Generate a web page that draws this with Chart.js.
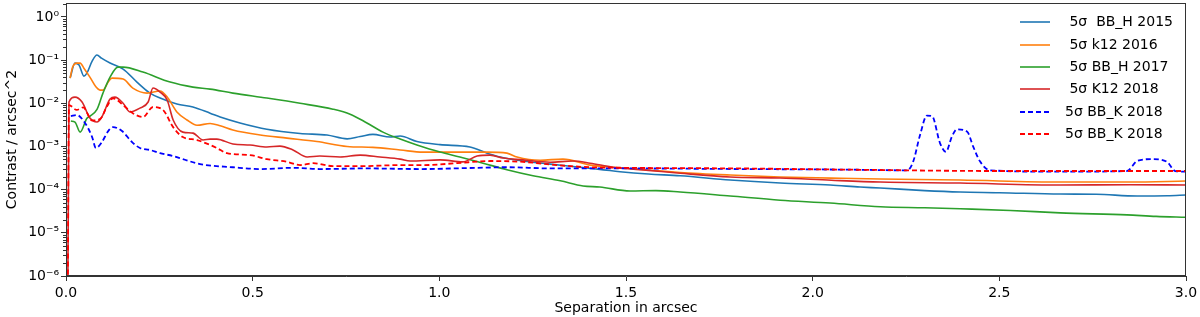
<!DOCTYPE html>
<html><head><meta charset="utf-8">
<script src="https://cdn.jsdelivr.net/npm/chart.js@4.4.1/dist/chart.umd.min.js"></script>
<style>html,body{margin:0;padding:0;background:#fff;}#wrap{width:1200px;height:317px;position:relative;}</style>
</head><body><div id="wrap"><canvas id="c" width="1200" height="317"></canvas></div>
<script>
// ---- data (separation in arcsec, contrast per arcsec^2) ----
const sep2015 = [0.011,0.024,0.035,0.048,0.056,0.070,0.083,0.095,0.118,0.153,0.190,0.225,0.252,0.297,0.340,0.386,0.413,0.466,0.538,0.627,0.699,0.753,0.788,0.822,0.868,0.895,0.940,1.002,1.082,1.128,1.163,1.224,1.297,1.377,1.484,1.560,1.645,1.779,1.913,2.047,2.127,2.181,2.300,2.395,2.500,2.663,2.760,2.869,2.950,3.0];
const c2015 = [0.0383,0.0853,0.0766,0.0426,0.050,0.095,0.131,0.111,0.0853,0.062,0.031,0.0172,0.0132,0.0096,0.0082,0.0059,0.0048,0.0035,0.0025,0.0020,0.00184,0.0015,0.0017,0.0019,0.00165,0.00174,0.0013,0.0011,0.00097,0.00070,0.00057,0.00046,0.00039,0.00033,0.00026,0.00023,0.00021,0.000167,0.000142,0.000128,0.000115,0.000109,0.000095,0.000088,0.000085,0.000079,0.000078,0.000071,0.000072,0.000075];

const sep2016 = [0.011,0.018,0.029,0.038,0.048,0.064,0.080,0.091,0.099,0.113,0.123,0.153,0.179,0.217,0.252,0.271,0.297,0.324,0.351,0.386,0.413,0.447,0.520,0.592,0.672,0.753,0.822,0.895,0.956,1.047,1.128,1.181,1.208,1.270,1.331,1.404,1.484,1.645,1.779,1.913,2.050,2.181,2.395,2.663,2.850,3.0];
const c2016 = [0.0383,0.070,0.0853,0.0853,0.065,0.0404,0.024,0.0202,0.0202,0.031,0.0383,0.0363,0.0225,0.0172,0.0192,0.0139,0.0063,0.0041,0.0031,0.0034,0.0030,0.0024,0.00184,0.00156,0.0013,0.0010,0.00095,0.00083,0.00074,0.00074,0.00074,0.00070,0.00057,0.00048,0.00051,0.00037,0.00032,0.00025,0.000218,0.000196,0.000185,0.000176,0.000167,0.000150,0.000150,0.000158];

const sep2017 = [0.013,0.024,0.038,0.056,0.064,0.083,0.099,0.118,0.139,0.153,0.206,0.279,0.340,0.386,0.447,0.538,0.627,0.715,0.761,0.806,0.849,0.895,0.940,1.002,1.055,1.117,1.181,1.251,1.324,1.385,1.430,1.511,1.580,1.645,1.779,1.913,2.047,2.181,2.300,2.395,2.530,2.663,2.842,2.920,3.0];
const c2017 = [0.00387,0.00367,0.00215,0.0045,0.0050,0.0072,0.0172,0.0404,0.0689,0.0689,0.0527,0.031,0.0237,0.0213,0.0172,0.0132,0.0100,0.0073,0.0056,0.0035,0.00215,0.00148,0.00108,0.00074,0.00057,0.00041,0.00029,0.00021,0.00016,0.000121,0.000115,0.000093,0.000095,0.000088,0.000071,0.000057,0.000049,0.000040,0.000038,0.000036,0.000033,0.000029,0.000026,0.000024,0.000023];

const sepK12 = [0.004,0.008,0.024,0.043,0.064,0.083,0.096,0.118,0.131,0.153,0.171,0.198,0.220,0.233,0.252,0.271,0.287,0.313,0.340,0.367,0.386,0.404,0.447,0.493,0.538,0.573,0.608,0.646,0.680,0.734,0.788,0.841,0.895,0.922,1.002,1.063,1.101,1.136,1.171,1.224,1.297,1.358,1.404,1.465,1.560,1.645,1.779,1.913,2.050,2.181,2.395,2.663,2.850,3.0];
const cK12 = [1e-8,0.0107,0.0139,0.0107,0.00454,0.00367,0.0048,0.0125,0.0139,0.0100,0.0063,0.0077,0.0107,0.0225,0.0182,0.0119,0.0041,0.00215,0.00204,0.00141,0.00148,0.00148,0.00114,0.00108,0.00097,0.00102,0.00083,0.00057,0.00060,0.00057,0.00063,0.00057,0.00051,0.00046,0.00049,0.00044,0.00060,0.00063,0.00054,0.00049,0.00043,0.00046,0.00041,0.00033,0.00028,0.00024,0.000196,0.000186,0.000165,0.000150,0.000142,0.000128,0.000130,0.000128];

const sepBlueK = [0.013,0.029,0.051,0.070,0.080,0.096,0.113,0.126,0.150,0.177,0.198,0.225,0.252,0.287,0.313,0.359,0.447,0.520,0.608,0.680,0.800,0.950,1.100,1.180,1.300,1.500,1.800,2.100,2.253,2.269,2.288,2.306,2.320,2.341,2.357,2.373,2.387,2.414,2.430,2.449,2.475,2.663,2.842,2.869,2.912,2.949,2.971,3.0];
const cBlueK = [0.00505,0.00533,0.0035,0.00165,0.00092,0.00126,0.00227,0.00281,0.00227,0.00126,0.00092,0.00083,0.00070,0.00060,0.00051,0.00039,0.00033,0.00030,0.00032,0.00030,0.00031,0.00030,0.00032,0.00033,0.00031,0.00031,0.00030,0.00029,0.00028,0.00044,0.0019,0.0052,0.0050,0.0012,0.00075,0.0017,0.0025,0.0022,0.00099,0.00044,0.00028,0.00026,0.00027,0.00046,0.00051,0.00044,0.00027,0.00026];

const sepRedK = [0.004,0.008,0.029,0.046,0.070,0.091,0.110,0.126,0.153,0.179,0.206,0.233,0.260,0.287,0.313,0.351,0.386,0.404,0.431,0.493,0.538,0.592,0.627,0.662,0.715,0.788,0.895,0.956,1.047,1.136,1.224,1.315,1.404,1.500,1.800,2.100,2.500,3.0];
const cRedK = [1e-8,0.0091,0.0070,0.0080,0.0040,0.0043,0.0085,0.0130,0.0091,0.0059,0.0048,0.0082,0.0070,0.0028,0.00165,0.00141,0.00108,0.00092,0.00070,0.00063,0.00051,0.00044,0.00037,0.00041,0.00035,0.00035,0.00037,0.00037,0.00041,0.00046,0.00044,0.00037,0.00033,0.00032,0.00031,0.00029,0.00027,0.00027];

const seriesLabels = [' 5σ  BB_H 2015', ' 5σ k12 2016', ' 5σ BB_H 2017', ' 5σ K12 2018', '5σ BB_K 2018', '5σ BB_K 2018'];

const xTickValues = [0, 0.5, 1.0, 1.5, 2.0, 2.5, 3.0];
const xTickLabels = ['0.0', '0.5', '1.0', '1.5', '2.0', '2.5', '3.0'];
const yTickValues = [1e-6, 1e-5, 1e-4, 1e-3, 1e-2, 1e-1, 1];
const yTickLabels = ['10⁻⁶', '10⁻⁵', '10⁻⁴', '10⁻³', '10⁻²', '10⁻¹', '10⁰'];

// ---- styling ----
const FONT = "'DejaVu Sans', sans-serif";
Chart.defaults.font.family = FONT;
Chart.defaults.font.size = 14;
Chart.defaults.color = '#000';
const AXIS = '#333';

function pts(xs, ys) { return xs.map((x, i) => ({ x: x, y: ys[i] })); }

const styles = [
  { color: '#1f77b4', dash: [], width: 1.6 },
  { color: '#ff7f0e', dash: [], width: 1.6 },
  { color: '#2ca02c', dash: [], width: 1.6 },
  { color: '#d62728', dash: [], width: 1.6 },
  { color: '#0000ff', dash: [5, 3], width: 1.8 },
  { color: '#ff0000', dash: [5, 3], width: 1.8 }
];
const seriesData = [
  pts(sep2015, c2015), pts(sep2016, c2016), pts(sep2017, c2017),
  pts(sepK12, cK12), pts(sepBlueK, cBlueK), pts(sepRedK, cRedK)
];

const datasets = seriesData.map((d, i) => ({
  label: seriesLabels[i],
  data: d,
  borderColor: styles[i].color,
  backgroundColor: styles[i].color,
  borderWidth: styles[i].width,
  borderDash: styles[i].dash,
  pointRadius: 0,
  fill: false,
  cubicInterpolationMode: 'monotone',
  order: 5 - i
}));

const framePlugin = {
  id: 'frame',
  afterDraw(chart) {
    const { ctx, chartArea: a, scales: { y } } = chart;
    ctx.save();
    ctx.strokeStyle = AXIS;
    ctx.lineWidth = 1;
    const L = Math.round(a.left) + 0.5, R = Math.round(a.right) - 0.5;
    const T = Math.round(a.top) + 0.5, B = Math.round(a.bottom) - 0.5;
    ctx.strokeRect(L, T, R - L, B - T);
    // minor ticks on log axis
    ctx.beginPath();
    for (let n = -6; n <= 0; n++) {
      for (let k = 2; k <= 9; k++) {
        const v = k * Math.pow(10, n);
        if (v > y.max) continue;
        const py = Math.round(y.getPixelForValue(v)) + 0.5;
        ctx.moveTo(a.left - 3, py);
        ctx.lineTo(a.left, py);
      }
    }
    ctx.stroke();
    // legend
    const x0 = 1020, x1 = 1050, tx = 1065;
    const rowY = [22, 45, 67, 89, 112, 134];
    ctx.font = '14px ' + FONT;
    ctx.textBaseline = 'middle';
    ctx.textAlign = 'left';
    chart.data.datasets.forEach((ds, i) => {
      const yy = rowY[i];
      ctx.beginPath();
      ctx.strokeStyle = ds.borderColor;
      ctx.lineWidth = ds.borderWidth;
      ctx.setLineDash(ds.borderDash || []);
      ctx.moveTo(x0, yy);
      ctx.lineTo(x1, yy);
      ctx.stroke();
      ctx.setLineDash([]);
      ctx.fillStyle = '#000';
      ctx.fillText(ds.label, tx, yy);
    });
    ctx.restore();
  }
};

new Chart(document.getElementById('c'), {
  type: 'line',
  data: { datasets: datasets },
  options: {
    responsive: false,
    animation: false,
    devicePixelRatio: 1,
    layout: { padding: { left: 0, right: 14, top: 3, bottom: 0 } },
    plugins: { legend: { display: false }, tooltip: { enabled: false } },
    scales: {
      x: {
        type: 'linear', min: 0, max: 3,
        afterBuildTicks: (s) => { s.ticks = xTickValues.map(v => ({ value: v })); },
        afterFit: (s) => { s.height = 41; s.paddingLeft = 0; s.paddingRight = 0; },
        ticks: { callback: (v, i) => xTickLabels[i], padding: 4, maxRotation: 0, autoSkip: false, font: { size: 14 } },
        grid: { display: true, drawOnChartArea: false, drawTicks: true, tickLength: 5, tickColor: AXIS, color: AXIS },
        border: { display: true, color: AXIS, width: 1 },
        title: { display: true, text: 'Separation in arcsec', font: { size: 14 }, padding: { top: 0, bottom: 0 } }
      },
      y: {
        type: 'logarithmic', min: 1e-6, max: 2.1,
        afterBuildTicks: (s) => { s.ticks = yTickValues.map(v => ({ value: v })); },
        afterFit: (s) => { s.width = 66; s.paddingTop = 0; s.paddingBottom = 0; },
        ticks: { callback: (v, i) => yTickLabels[i], padding: 2, autoSkip: false, font: { size: 14 } },
        grid: { display: true, drawOnChartArea: false, drawTicks: true, tickLength: 5, tickColor: AXIS, color: AXIS },
        border: { display: true, color: AXIS, width: 1 },
        title: { display: true, text: 'Contrast / arcsec^2', font: { size: 14 }, padding: { top: 4, bottom: 0 } }
      }
    }
  },
  plugins: [framePlugin]
});
</script>
</body></html>
